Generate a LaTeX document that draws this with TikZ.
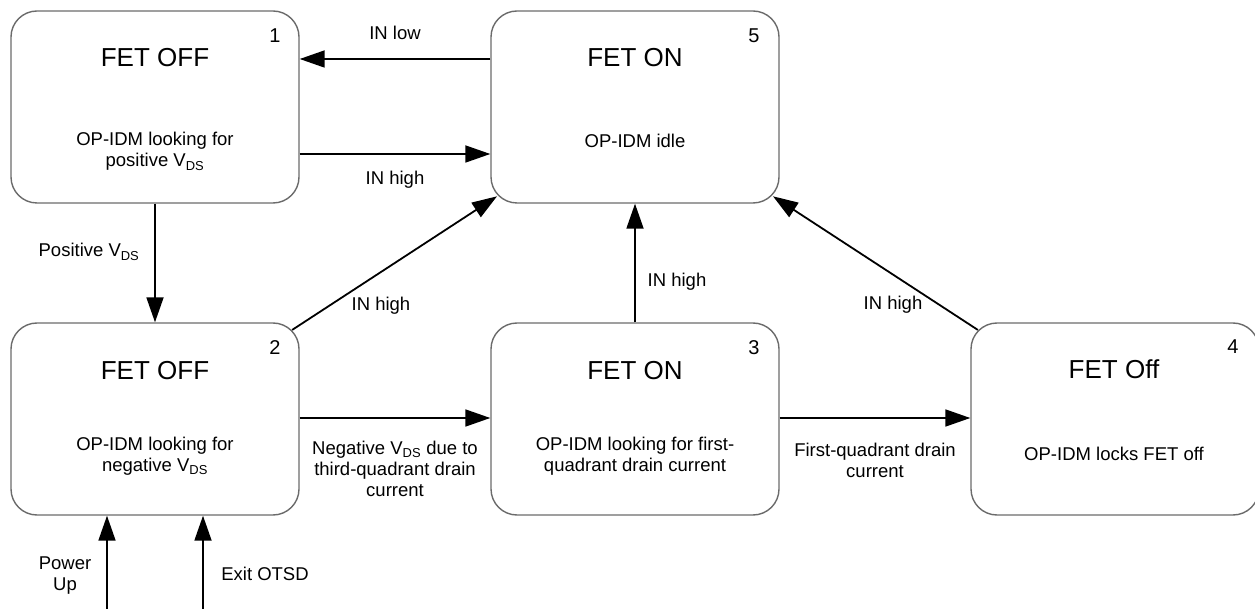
\documentclass[tikz,border=0pt]{standalone}
\usepackage{fontspec}
\setmainfont{Liberation Sans}
\usetikzlibrary{arrows.meta}
\begin{document}
\begin{tikzpicture}[x=1pt,y=-1pt,
  statebox/.style={draw=black!58,line width=1.4pt,rounded corners=26pt,
    minimum width=288pt,minimum height=192pt,inner sep=0pt},
  titletext/.style={font=\fontsize{26}{30}\selectfont,anchor=base,inner sep=0pt},
  smalltext/.style={font=\fontsize{18.5}{21}\selectfont,anchor=base,inner sep=0pt,align=center},
  numtext/.style={font=\fontsize{20}{22}\selectfont,anchor=base,inner sep=0pt},
  conn/.style={line width=1.8pt,-{Triangle[length=25pt,width=17pt]}}]
\path[use as bounding box] (0,0) rectangle (1255,609);
% boxes
\node[statebox] (b1) at (155,107) {};
\node[statebox] (b5) at (635,107) {};
\node[statebox] (b2) at (155,419) {};
\node[statebox] (b3) at (635,419) {};
\node[statebox] (b4) at (1115,419) {};
% box texts (base anchor = baseline of last line)
\node[titletext] (t1) at (155,67) {FET OFF};
\node[numtext] (n1) at (275,43) {1};
\node[smalltext] (s1) at (155,167) {OP-IDM looking for\\positive V\textsubscript{DS}};
\node[titletext] (t5) at (635,67) {FET ON};
\node[numtext] (n5) at (754,43) {5};
\node[smalltext] (s5) at (635,148) {OP-IDM idle};
\node[titletext] (t2) at (155,379) {FET OFF};
\node[numtext] (n2) at (275,355) {2};
\node[smalltext] (s2) at (155,471) {OP-IDM looking for\\negative V\textsubscript{DS}};
\node[titletext] (t3) at (635,379) {FET ON};
\node[numtext] (n3) at (754,355) {3};
\node[smalltext] (s3) at (635,471) {OP-IDM looking for first-\\quadrant drain current};
\node[titletext] (t4) at (1114,378) {FET Off};
\node[numtext] (n4) at (1233,353) {4};
\node[smalltext] (s4) at (1114,460) {OP-IDM locks FET off};
% helper coordinates
\coordinate (ylow) at (0,59);
\coordinate (yhigh) at (0,154);
\coordinate (ymid) at (0,418);
\coordinate (pu) at (107,609);
\coordinate (ex) at (203,609);
% connectors
\draw[conn] (b5.west |- ylow) -- (b1.east |- ylow);
\draw[conn] (b1.east |- yhigh) -- (b5.west |- yhigh);
\draw[conn] (b1.south) -- (b2.north);
\draw[conn,shorten <=-9pt,shorten >=-8pt] (b2) -- (b5);
\draw[conn] (b3.north) -- (b5.south);
\draw[conn,shorten <=-9pt,shorten >=-8pt] (b4) -- (b5);
\draw[conn] (b2.east |- ymid) -- (b3.west |- ymid);
\draw[conn] (b3.east |- ymid) -- (b4.west |- ymid);
\draw[conn] (pu) -- (pu |- b2.south);
\draw[conn] (ex) -- (ex |- b2.south);
% connector labels
\node[smalltext] (l1) at (395,40) {IN low};
\node[smalltext] (l2) at (395,185) {IN high};
\node[smalltext] (l3) at (89,257) {Positive V\textsubscript{DS}};
\node[smalltext] (l4) at (381,311) {IN high};
\node[smalltext] (l5) at (677,287) {IN high};
\node[smalltext] (l6) at (893,310) {IN high};
\node[smalltext] (l7) at (395,496) {Negative V\textsubscript{DS} due to\\third-quadrant drain\\current};
\node[smalltext] (l8) at (875,477) {First-quadrant drain\\current};
\node[smalltext] (l9) at (65,590) {Power\\Up};
\node[smalltext] (l10) at (265,580) {Exit OTSD};
\end{tikzpicture}
\end{document}
